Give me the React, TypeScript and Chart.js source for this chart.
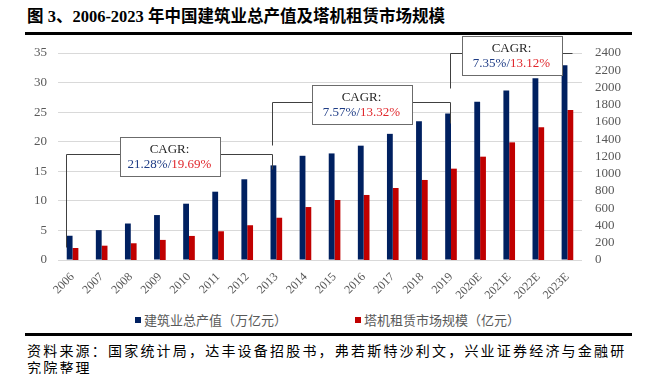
import React, { useEffect, useRef } from "react";
import { Chart, registerables } from "chart.js";

Chart.register(...registerables);

// ---------- data ----------
const years = [
  "2006", "2007", "2008", "2009", "2010", "2011", "2012", "2013", "2014",
  "2015", "2016", "2017", "2018", "2019", "2020E", "2021E", "2022E", "2023E",
];
const constructionOutput = [
  4.1, 5.05, 6.17, 7.6, 9.52, 11.55, 13.65, 16.0, 17.62,
  18.02, 19.33, 21.33, 23.48, 24.77, 26.75, 28.68, 30.72, 32.92,
];
const craneRental = [
  139, 166, 194, 233, 279, 333, 403, 490, 614,
  696, 754, 835, 928, 1059, 1198, 1364, 1538, 1738,
];
const seriesNames = ["建筑业总产值（万亿元）", "塔机租赁市场规模（亿元）"];
const seriesColors = ["#002060", "#C00000"];
const leftTicks = { min: 0, max: 35, step: 5 };
const rightTicks = { min: 0, max: 2400, step: 200 };

const cagrStart = [0, 7, 13];
const cagrEnd = [7, 13, 17];
const cagrOutput = ["21.28%", "7.57%", "7.35%"];
const cagrRental = ["19.69%", "13.32%", "13.12%"];

const titleText = "图 3、2006-2023 年中国建筑业总产值及塔机租赁市场规模";
const sourceLine1 = "资料来源：国家统计局，达丰设备招股书，弗若斯特沙利文，兴业证券经济与金融研";
const sourceLine2 = "究院整理";

// ---------- drawing-only settings for the CAGR call-outs ----------
const ARM_DX = [
  [-6.6, -4.3],
  [-4.3, -1.1],
  [-1.1, 4.3],
];
const ARM_DROP = [
  [93, 15],
  [43, 21],
  [35, 0],
];

const SERIF = "'Liberation Serif', 'Times New Roman', serif";
const CJK = "'Noto Sans CJK SC', 'Noto Sans', sans-serif";

const cagrPlugin = {
  id: "cagrCallouts",
  afterDatasetsDraw(chart: any) {
    const { ctx } = chart;
    const xs = chart.scales.x;
    const ys = chart.scales.y;
    ctx.save();
    cagrStart.forEach((s, i) => {
      const e = cagrEnd[i];
      const maxV = Math.max(...constructionOutput.slice(s, e + 1));
      const armY = Math.round(ys.getPixelForValue(maxV + 2)) + 0.5;
      const lx = Math.round(xs.getPixelForValue(s) + ARM_DX[i][0]) + 0.5;
      const rx = Math.round(xs.getPixelForValue(e) + ARM_DX[i][1]) + 0.5;
      const cx = (lx + rx) / 2;
      const bw = 100;
      const bh = 39;
      const bl = Math.round(cx - bw / 2) + 0.5;
      const bt = Math.round(armY - 17.5) + 0.5;

      ctx.strokeStyle = "#404040";
      ctx.lineWidth = 1;
      ctx.beginPath();
      ctx.moveTo(lx, armY + ARM_DROP[i][0]);
      ctx.lineTo(lx, armY);
      ctx.lineTo(bl, armY);
      ctx.moveTo(bl + bw, armY);
      ctx.lineTo(rx, armY);
      ctx.lineTo(rx, armY + ARM_DROP[i][1]);
      ctx.stroke();

      ctx.fillStyle = "#ffffff";
      ctx.fillRect(bl, bt, bw, bh);
      ctx.strokeStyle = "#6b6b6b";
      ctx.strokeRect(bl, bt, bw, bh);

      ctx.font = `13px ${SERIF}`;
      ctx.textBaseline = "middle";
      ctx.textAlign = "center";
      ctx.fillStyle = "#262626";
      ctx.fillText("CAGR:", cx, bt + 12);

      const a = cagrOutput[i] + "/";
      const b = cagrRental[i];
      const wa = ctx.measureText(a).width;
      const wb = ctx.measureText(b).width;
      const sx = cx - (wa + wb) / 2;
      ctx.textAlign = "left";
      ctx.fillStyle = "#1f3d86";
      ctx.fillText(a, sx, bt + 27);
      ctx.fillStyle = "#e0262b";
      ctx.fillText(b, sx + wa, bt + 27);
    });
    ctx.restore();
  },
};

export default function App() {
  const canvasRef = useRef<HTMLCanvasElement | null>(null);

  useEffect(() => {
    if (!canvasRef.current) return;
    const chart = new Chart(canvasRef.current, {
      type: "bar",
      data: {
        labels: years,
        datasets: [
          {
            label: seriesNames[0],
            data: constructionOutput,
            backgroundColor: seriesColors[0],
            yAxisID: "y",
            categoryPercentage: 0.4,
            barPercentage: 1,
          },
          {
            label: seriesNames[1],
            data: craneRental,
            backgroundColor: seriesColors[1],
            yAxisID: "y1",
            categoryPercentage: 0.4,
            barPercentage: 1,
          },
        ],
      },
      options: {
        responsive: false,
        maintainAspectRatio: false,
        animation: false,
        devicePixelRatio: 1,
        layout: { padding: { top: 53, bottom: 5, left: 0, right: 0 } },
        plugins: {
          legend: { display: false },
          tooltip: { enabled: false },
          title: { display: false },
        },
        scales: {
          x: {
            grid: { display: false },
            border: { display: false },
            ticks: {
              autoSkip: false,
              maxRotation: 45,
              minRotation: 45,
              padding: 2,
              color: "#595959",
              font: { family: SERIF, size: 12 },
            },
            afterFit: (s: any) => {
              s.height = 45;
            },
          },
          y: {
            position: "left",
            min: leftTicks.min,
            max: leftTicks.max,
            border: { display: false },
            grid: { color: "#d9d9d9", lineWidth: 1, drawTicks: false },
            ticks: {
              stepSize: leftTicks.step,
              padding: 11,
              color: "#595959",
              font: { family: SERIF, size: 13 },
              callback: (v: any) => String(v),
            },
            afterFit: (s: any) => {
              s.width = 58;
            },
          },
          y1: {
            position: "right",
            min: rightTicks.min,
            max: rightTicks.max,
            border: { display: false },
            grid: { display: false, drawTicks: false },
            ticks: {
              stepSize: rightTicks.step,
              maxTicksLimit: 20,
              autoSkip: false,
              padding: 13,
              color: "#595959",
              font: { family: SERIF, size: 13 },
              callback: (v: any) => String(v),
            },
            afterFit: (s: any) => {
              s.width = 74;
            },
          },
        },
      },
      plugins: [cagrPlugin],
    } as any);
    return () => chart.destroy();
  }, []);

  const legendItem = (i: number, left: number) => (
    <div
      key={i}
      style={{
        position: "absolute",
        left,
        top: 311,
        height: 18,
        display: "flex",
        alignItems: "center",
        whiteSpace: "nowrap",
      }}
    >
      <span
        style={{
          display: "inline-block",
          width: 6,
          height: 6,
          background: seriesColors[i],
          marginRight: 3,
        }}
      />
      <span style={{ font: `13px ${CJK}`, color: "#595959", lineHeight: "18px" }}>
        {seriesNames[i]}
      </span>
    </div>
  );

  return (
    <div
      style={{
        position: "relative",
        width: 656,
        height: 374,
        background: "#ffffff",
        overflow: "hidden",
      }}
    >
      <style>{"body{margin:0}"}</style>
      <div
        style={{
          position: "absolute",
          left: 27,
          top: 7,
          fontFamily: `'Liberation Serif', 'Noto Sans CJK SC', serif`,
          fontWeight: "bold",
          fontSize: 16.5,
          lineHeight: "20px",
          color: "#000",
          whiteSpace: "nowrap",
        }}
      >
        {titleText}
      </div>
      <div
        style={{
          position: "absolute",
          left: 25,
          top: 32,
          width: 607,
          height: 3,
          background: "#000",
        }}
      />
      <canvas
        ref={canvasRef}
        width={656}
        height={310}
        style={{ position: "absolute", left: 0, top: 0, width: 656, height: 310 }}
      />
      {legendItem(0, 135)}
      {legendItem(1, 355)}
      <div
        style={{
          position: "absolute",
          left: 25,
          top: 333,
          width: 607,
          height: 3,
          background: "#000",
        }}
      />
      <div
        style={{
          position: "absolute",
          left: 27,
          top: 342,
          fontFamily: CJK,
          fontSize: 14,
          lineHeight: "17px",
          letterSpacing: "2.2px",
          color: "#000",
          whiteSpace: "nowrap",
        }}
      >
        {sourceLine1}
        <br />
        {sourceLine2}
      </div>
    </div>
  );
}
